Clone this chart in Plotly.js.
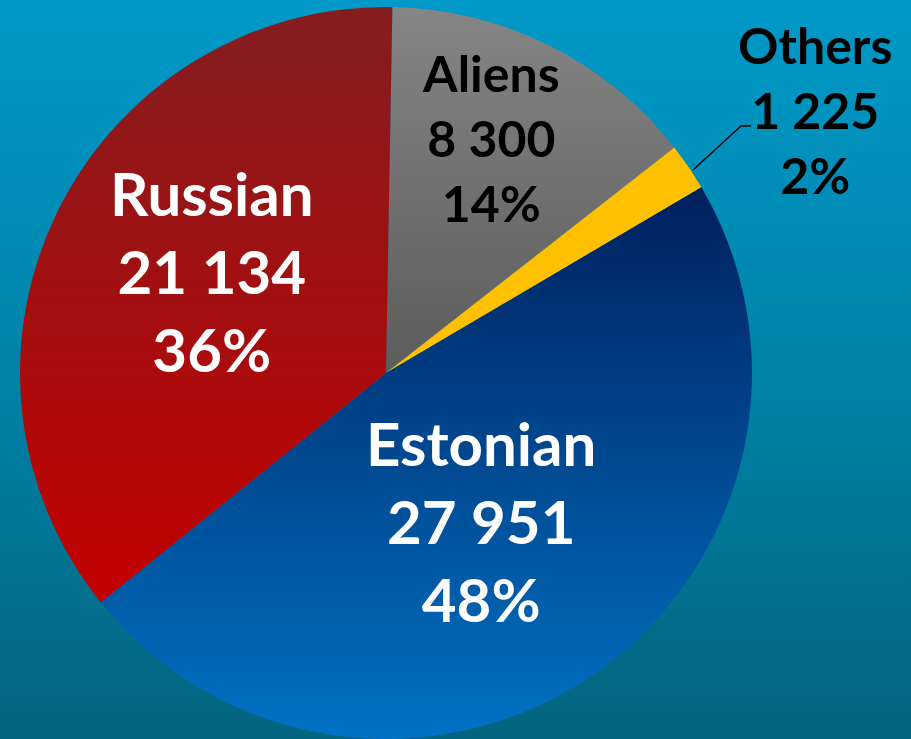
<!DOCTYPE html>
<html>
<head>
<meta charset="utf-8">
<script src="https://cdn.plot.ly/plotly-3.0.1.min.js"></script>
<style>
  html, body { margin: 0; padding: 0; }
  body { width: 911px; height: 739px; overflow: hidden;
         background: linear-gradient(to bottom, #0099c8 0%, #0083a8 50%, #03647e 100%); }
  #chart { width: 911px; height: 739px; }
</style>
</head>
<body>
<svg width="0" height="0" style="position:absolute">
  <defs>
    <linearGradient id="gAliens" x1="0" y1="0" x2="0" y2="1">
      <stop offset="0" stop-color="#858585"/>
      <stop offset="1" stop-color="#5c5c5c"/>
    </linearGradient>
    <linearGradient id="gOthers" x1="0" y1="0" x2="0" y2="1">
      <stop offset="0" stop-color="#ffc000"/>
      <stop offset="1" stop-color="#ffc000"/>
    </linearGradient>
    <linearGradient id="gEstonian" x1="0" y1="0" x2="0" y2="1">
      <stop offset="0" stop-color="#00205e"/>
      <stop offset="1" stop-color="#0072c4"/>
    </linearGradient>
    <linearGradient id="gRussian" x1="0" y1="0" x2="0" y2="1">
      <stop offset="0" stop-color="#841d1f"/>
      <stop offset="1" stop-color="#c20000"/>
    </linearGradient>
  </defs>
</svg>
<div id="chart"></div>
<script>
// ---- data ----
const categories = ["Aliens", "Others", "Estonian", "Russian"];
const counts = [8300, 1225, 27951, 21134];
const sliceColors = ["#707070", "#ffc000", "#004890", "#a31818"];
const textColors = ["#000000", "#000000", "#ffffff", "#ffffff"];
const gradientIds = ["gAliens", "gOthers", "gEstonian", "gRussian"];

// label placement (pixel centres of each label block) and font sizes
const labelPos = [[491, 138], [815, 110], [481, 521], [212, 271]];
const labelSize = [50, 50, 60, 60];

const W = 911, H = 739;
const cx = 386, cy = 373, R = 366;

const trace = {
  type: "pie",
  labels: categories,
  values: counts,
  sort: false,
  direction: "clockwise",
  rotation: 1,
  domain: { x: [(cx - R) / W, (cx + R) / W], y: [1 - (cy + R) / H, 1 - (cy - R) / H] },
  marker: { colors: sliceColors, line: { width: 0 } },
  textinfo: "none",
  hoverinfo: "none"
};

const total = counts.reduce((a, b) => a + b, 0);
function fmt(n) { return n.toLocaleString("en-US").replace(/,/g, " "); }

const annotations = categories.map(function (c, i) {
  return {
    xref: "paper", yref: "paper",
    x: labelPos[i][0] / W, y: 1 - labelPos[i][1] / H,
    xanchor: "center", yanchor: "middle",
    text: c + "<br>" + fmt(counts[i]) + "<br>" + Math.round(100 * counts[i] / total) + "%",
    showarrow: false,
    font: { family: "Lato, 'Open Sans', sans-serif", size: labelSize[i], color: textColors[i], weight: 700 }
  };
});

const layout = {
  width: W, height: H,
  margin: { l: 0, r: 0, t: 0, b: 0 },
  paper_bgcolor: "rgba(0,0,0,0)",
  plot_bgcolor: "rgba(0,0,0,0)",
  showlegend: false,
  annotations: annotations,
  shapes: [{
    type: "path", xref: "paper", yref: "paper",
    path: "M " + (693 / W) + " " + (1 - 170 / H) + " L " + (741 / W) + " " + (1 - 126 / H) + " L " + (751 / W) + " " + (1 - 126 / H),
    line: { color: "#000000", width: 1.3 }
  }]
};

Plotly.newPlot("chart", [trace], layout, { staticPlot: true }).then(function () {
  const paths = document.querySelectorAll("#chart .slice path.surface");
  paths.forEach(function (p, i) {
    if (gradientIds[i]) p.style.fill = "url(#" + gradientIds[i] + ")";
  });
});
</script>
</body>
</html>
